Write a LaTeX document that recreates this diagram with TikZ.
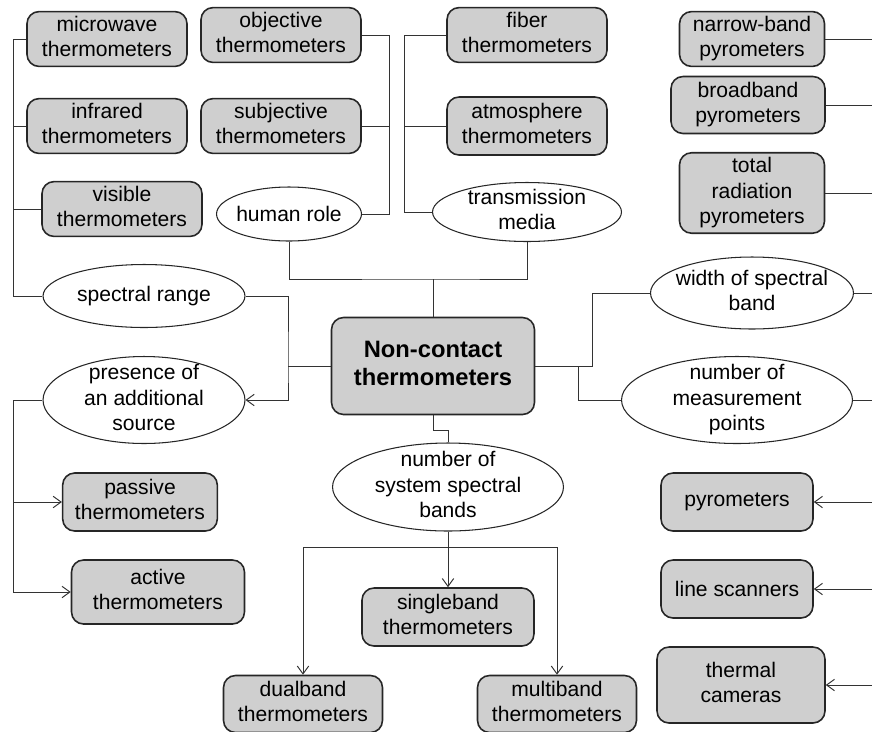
\documentclass[tikz,border=0pt]{standalone}
\usepackage{fontspec}
\setmainfont{Liberation Sans}
\usetikzlibrary{shapes.geometric,arrows.meta}

\begin{document}
\begin{tikzpicture}[x=0.02cm, y=-0.02cm,
		font=\fontsize{12}{14.6}\selectfont,
		term/.style={draw=black!85, line width=0.9pt, fill=black!19, rounded corners=2.4mm, inner sep=1pt},
		prop/.style={draw=black!85, line width=0.6pt, ellipse, inner xsep=-12pt, inner ysep=-6pt},
		link/.style={draw=black!80, line width=0.55pt},
		arr/.style={link, -{Straight Barb[length=4.5pt,width=6.5pt]}}]
%			\draw[help lines] (0,0) grid (872,731);
			\useasboundingbox (0,0) rectangle (872,731);
			% top left
			\node[term, minimum width=3.2cm, minimum height=1cm] (microwave) at (107,39) {\begin{tabular}{c} microwave \\ thermometers \end{tabular}};
			\node[term, minimum width=3.2cm, minimum height=1cm] (infrared) at (107,126) {\begin{tabular}{c} infrared \\ thermometers \end{tabular}};
			\node[term, minimum width=3.2cm, minimum height=1cm] (visible) at (122,209) {\begin{tabular}{c} visible \\ thermometers \end{tabular}};
			\node[term, minimum width=3.2cm, minimum height=1cm] (objective) at (281,35) {\begin{tabular}{c} objective \\ thermometers \end{tabular}};
			\node[term, minimum width=3.2cm, minimum height=1cm] (subjective) at (281,126) {\begin{tabular}{c} subjective \\ thermometers \end{tabular}};
			\node[prop, minimum width=2.9cm, minimum height=1.08cm] (human) at (289,214) {human role};
			\node[term, minimum width=3.2cm, minimum height=0.98cm] (fiber) at (527,35) {\begin{tabular}{c} fiber \\ thermometers \end{tabular}};
			\node[term, minimum width=3.2cm, minimum height=1.16cm] (atmosphere) at (527,126) {\begin{tabular}{c} atmosphere \\ thermometers \end{tabular}};
			\node[prop, minimum width=3.78cm, minimum height=1.18cm] (media) at (527,212) {\begin{tabular}{c} transmission \\ media \end{tabular}};
			% top right
			\node[term, minimum width=2.9cm, minimum height=1cm] (narrow) at (752,39) {\begin{tabular}{c} narrow-band \\ pyrometers \end{tabular}};
			\node[term, minimum width=3.08cm, minimum height=1.14cm] (broad) at (748,105) {\begin{tabular}{c} broadband \\ pyrometers \end{tabular}};
			\node[term, minimum width=2.9cm, minimum height=1.56cm] (total) at (752,193) {\begin{tabular}{c} total \\ radiation \\ pyrometers \end{tabular}};
			% middle
			\node[term, minimum width=4.06cm, minimum height=1.94cm, font=\bfseries\fontsize{13.5}{16}\selectfont] (center) at (433,366) {\begin{tabular}{c} Non-contact \\ thermometers \end{tabular}};
			\node[prop, minimum width=4.04cm, minimum height=1.26cm] (range) at (144,296) {spectral range};
			\node[prop, minimum width=4.04cm, minimum height=1.74cm] (source) at (144,400) {\begin{tabular}{c} presence of \\ an additional \\ source \end{tabular}};
			\node[prop, minimum width=4.06cm, minimum height=1.44cm] (width) at (752,293) {\begin{tabular}{c} width of spectral \\ band \end{tabular}};
			\node[prop, minimum width=4.62cm, minimum height=1.74cm] (points) at (737,400) {\begin{tabular}{c} number of \\ measurement \\ points \end{tabular}};
			\node[prop, minimum width=4.62cm, minimum height=1.76cm] (bands) at (448,487) {\begin{tabular}{c} number of \\ system spectral \\ bands \end{tabular}};
			% bottom
			\node[term, minimum width=3.06cm, minimum height=1.16cm] (passive) at (140,502) {\begin{tabular}{c} passive \\ thermometers \end{tabular}};
			\node[term, minimum width=3.46cm, minimum height=1.28cm] (active) at (158,592) {\begin{tabular}{c} active \\ thermometers \end{tabular}};
			\node[term, minimum width=3.44cm, minimum height=1.16cm] (single) at (448,617) {\begin{tabular}{c} singleband \\ thermometers \end{tabular}};
			\node[term, minimum width=3.18cm, minimum height=1.14cm] (dual) at (303,704) {\begin{tabular}{c} dualband \\ thermometers \end{tabular}};
			\node[term, minimum width=3.18cm, minimum height=1.14cm] (multi) at (557,704) {\begin{tabular}{c} multiband \\ thermometers \end{tabular}};
			\node[term, minimum width=3.04cm, minimum height=1.16cm] (pyro) at (737,502) {pyrometers};
			\node[term, minimum width=3.04cm, minimum height=1.16cm] (scanner) at (737,589) {line scanners};
			\node[term, minimum width=3.36cm, minimum height=1.52cm] (camera) at (741,685) {\begin{tabular}{c} thermal \\ cameras \end{tabular}};
			% bus points
			\coordinate (ltrunk) at (13,0);
			\coordinate (otrunk) at (389,0);
			\coordinate (ftrunk) at (404,0);
			\coordinate (redge) at (872,0);
			\coordinate (topbus) at (433,279);
			\coordinate (lbus) at (288,366);
			\coordinate (rbus) at (578,366);
			\coordinate (bbus) at (448,547);
			% connectors
			\draw[link] (microwave.west) -- (microwave.west -| ltrunk) |- (range.west);
			\draw[link] (infrared.west) -- (infrared.west -| ltrunk);
			\draw[link] (visible.west) -- (visible.west -| ltrunk);
			\draw[link] (objective.east) -- (objective.east -| otrunk) |- (human.east);
			\draw[link] (subjective.east) -- (subjective.east -| otrunk);
			\draw[link] (fiber.west) -- (fiber.west -| ftrunk) |- (media.west);
			\draw[link] (atmosphere.west) -- (atmosphere.west -| ftrunk);
			\draw[link] (human.south) |- (topbus) -| (media.south);
			\draw[link] (center.north) -- (topbus);
			\draw[arr] (range.east) -| (lbus) |- (source.east);
			\draw[link] (center.west) -- (lbus);
			\draw[arr] (source.west) -- (source.west -| ltrunk) |- (active.west);
			\draw[arr] (passive.west -| ltrunk) -- (passive.west);
			\draw[link] (center.south) -- ++(0,15) -| (bands.north);
			\draw[arr] (bands.south) -- (single.north);
			\draw[arr] (bbus) -| (dual.north);
			\draw[arr] (bbus) -| (multi.north);
			\draw[link] (center.east) -- ++(57,0) |- (width.west);
			\draw[link] (rbus) |- (points.west);
			\draw[link] (narrow.east) -- (narrow.east -| redge);
			\draw[link] (broad.east) -- (broad.east -| redge);
			\draw[link] (total.east) -- (total.east -| redge);
			\draw[link] (width.east) -- (width.east -| redge);
			\draw[link] (points.east) -- (points.east -| redge);
			\draw[arr] (pyro.east -| redge) -- (pyro.east);
			\draw[arr] (scanner.east -| redge) -- (scanner.east);
			\draw[arr] (camera.east -| redge) -- (camera.east);
		\end{tikzpicture}
\end{document}
